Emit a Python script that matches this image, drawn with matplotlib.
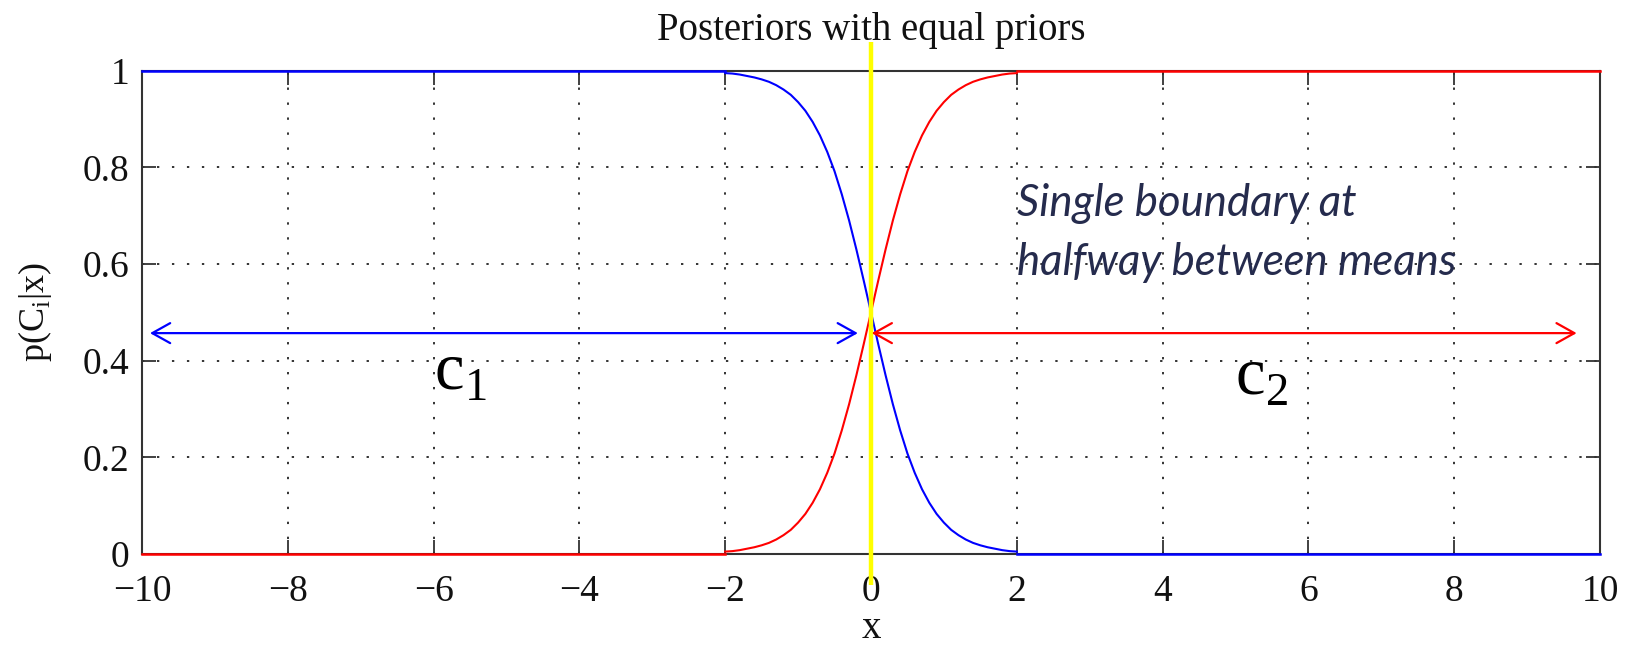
import matplotlib
matplotlib.use("Agg")
import matplotlib.pyplot as plt

# Posterior curves over the transition region (x from -2 to 2)
x_mid = [-2.0, -1.9, -1.8, -1.7, -1.6, -1.5, -1.4, -1.3, -1.2, -1.1, -1.0,
         -0.9, -0.8, -0.7, -0.6, -0.5, -0.4, -0.3, -0.2, -0.1, 0.0,
         0.1, 0.2, 0.3, 0.4, 0.5, 0.6, 0.7, 0.8, 0.9, 1.0,
         1.1, 1.2, 1.3, 1.4, 1.5, 1.6, 1.7, 1.8, 1.9, 2.0]
post_c1 = [0.995, 0.994, 0.992, 0.989, 0.986, 0.982, 0.977, 0.970, 0.961, 0.950, 0.935,
           0.917, 0.894, 0.866, 0.832, 0.792, 0.744, 0.690, 0.630, 0.566, 0.500,
           0.434, 0.370, 0.310, 0.256, 0.208, 0.168, 0.134, 0.106, 0.083, 0.065,
           0.050, 0.039, 0.030, 0.023, 0.018, 0.014, 0.011, 0.008, 0.006, 0.005]
post_c2 = [0.005, 0.006, 0.008, 0.011, 0.014, 0.018, 0.023, 0.030, 0.039, 0.050, 0.065,
           0.083, 0.106, 0.134, 0.168, 0.208, 0.256, 0.310, 0.370, 0.434, 0.500,
           0.566, 0.630, 0.690, 0.744, 0.792, 0.832, 0.866, 0.894, 0.917, 0.935,
           0.950, 0.961, 0.970, 0.977, 0.982, 0.986, 0.989, 0.992, 0.994, 0.995]

# Saturated tails outside the transition region
x_left = [-10, -2]
x_right = [2, 10]
c1_left, c1_right = [1, 1], [0, 0]
c2_left, c2_right = [0, 0], [1, 1]

# Decision boundary and class extents
boundary_x = 0.0
boundary_y = [-0.064, 1.059]
arrow_y = 0.457
c1_span = [-9.89, -0.18]
c2_span = [0.01, 9.68]

x_ticks = [-10, -8, -6, -4, -2, 0, 2, 4, 6, 8, 10]
x_tick_labels = ["\u221210", "\u22128", "\u22126", "\u22124", "\u22122", "0", "2", "4", "6", "8", "10"]
y_ticks = [0, 0.2, 0.4, 0.6, 0.8, 1]
y_tick_labels = ["0", "0.2", "0.4", "0.6", "0.8", "1"]

serif = ["Liberation Serif", "DejaVu Serif"]
plt.rcParams["font.family"] = serif
plt.rcParams["mathtext.fontset"] = "custom"
plt.rcParams["mathtext.rm"] = "Liberation Serif"

fig = plt.figure(figsize=(16.28, 6.46), dpi=100)
ax = fig.add_axes([0.0872, 0.1424, 0.8956, 0.7482])

spine_col = "#333333"
ax.set_xlim(-10, 10)
ax.set_ylim(0, 1)

# grid
ax.set_xticks(x_ticks)
ax.set_xticklabels(x_tick_labels)
ax.set_yticks(y_ticks)
ax.set_yticklabels(y_tick_labels)
ax.grid(True, color=spine_col, linestyle=(0, (1.2, 6.5)), linewidth=1.4)
ax.set_axisbelow(True)

for s in ax.spines.values():
    s.set_color(spine_col)
    s.set_linewidth(1.5)

ax.tick_params(direction="in", length=10, width=1.3, color=spine_col,
               top=True, right=True, labelsize=27, labelcolor="#111111")
ax.tick_params(axis="x", pad=15)
ax.tick_params(axis="y", pad=9)

# curves
ax.plot(x_mid, post_c1, color="blue", lw=1.5, zorder=2)
ax.plot(x_mid, post_c2, color="red", lw=1.5, zorder=2)
for xs, ys, c in [(x_left, c1_left, "blue"), (x_right, c1_right, "blue"),
                  (x_left, c2_left, "red"), (x_right, c2_right, "red")]:
    ax.plot(xs, ys, color=c, lw=1.8, zorder=3, clip_on=False)

# boundary line
ax.plot([boundary_x, boundary_x], boundary_y, color="#ffff00", lw=3.2,
        zorder=5, clip_on=False, solid_capstyle="butt")

# class extents
arrow_style = "<->, head_length=0.43, head_width=0.24"
ax.annotate("", xy=(c1_span[1], arrow_y), xytext=(c1_span[0], arrow_y),
            arrowprops=dict(arrowstyle=arrow_style, color="blue", lw=1.6,
                            shrinkA=0, shrinkB=0, mutation_scale=30), zorder=6)
ax.annotate("", xy=(c2_span[1], arrow_y), xytext=(c2_span[0], arrow_y),
            arrowprops=dict(arrowstyle=arrow_style, color="red", lw=1.6,
                            shrinkA=0, shrinkB=0, mutation_scale=30), zorder=6)

ax.text(-6.0, 0.34, r"c$_\mathregular{1}$", fontsize=48, family=serif,
        va="baseline", ha="left", color="black", zorder=6)
ax.text(5.0, 0.33, r"c$_\mathregular{2}$", fontsize=48, family=serif,
        va="baseline", ha="left", color="black", zorder=6)

note_col = "#252b4d"
ax.text(2.0, 0.70, "Single boundary at", fontsize=31.5, family=["Lato", "DejaVu Sans"],
        style="italic", color=note_col, va="baseline", ha="left", zorder=6)
ax.text(2.0, 0.577, "halfway between means", fontsize=31.5, family=["Lato", "DejaVu Sans"],
        style="italic", color=note_col, va="baseline", ha="left", zorder=6)

ax.set_title("Posteriors with equal priors", fontsize=28, color="#111111",
             y=1.0635, va="baseline", pad=0)
ax.set_xlabel("x", fontsize=28, color="#111111")
ax.xaxis.set_label_coords(0.5, -0.155)
ax.xaxis.label.set_va("center")
ax.set_ylabel(r"p(C$_\mathregular{i}$|x)", fontsize=26, color="#111111")
ax.yaxis.set_label_coords(-0.0734, 0.5)
ax.yaxis.label.set_va("center")

fig.savefig("out.png", dpi=100, facecolor="white")
